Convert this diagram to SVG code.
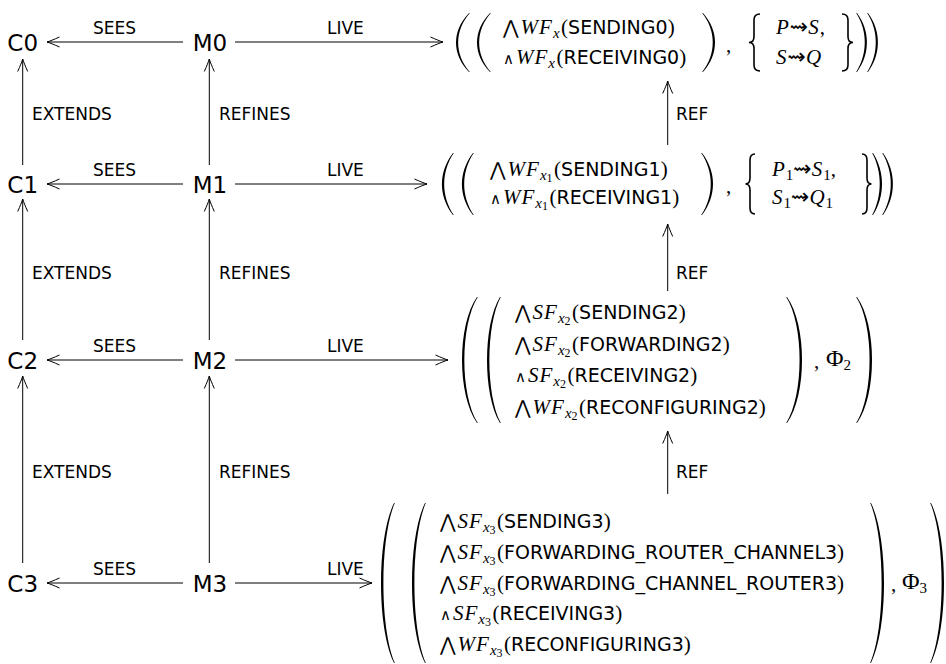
<svg xmlns="http://www.w3.org/2000/svg" width="946" height="664" viewBox="0 0 946 664">
<defs>
<marker id="ah" markerUnits="userSpaceOnUse" viewBox="-14 -7 16 14" markerWidth="16" markerHeight="14" refX="0" refY="0" orient="auto" overflow="visible">
<path d="M-12.5,-5 Q-4,-1.2 0,0 Q-4,1.2 -12.5,5" fill="none" stroke="#000" stroke-width="1"/>
</marker>
<style>
.ln{stroke:#000;stroke-width:1;fill:none;marker-end:url(#ah)}
.node{font-family:"DejaVu Sans",sans-serif;font-size:23px;text-anchor:middle;fill:#000}
.lbl{font-family:"DejaVu Sans",sans-serif;font-size:17px;fill:#000}
.f{font-family:"DejaVu Sans",sans-serif;font-size:19px;fill:#000}
.mi{font-family:"Liberation Serif",serif;font-style:italic;font-size:21px;letter-spacing:1px}
.rm{font-family:"Liberation Serif",serif;font-style:normal;font-size:21px}
.s1{font-family:"Liberation Serif",serif;font-style:italic;font-size:15px}
.s2{font-family:"Liberation Serif",serif;font-style:normal;font-size:12px}
.sd{font-family:"Liberation Serif",serif;font-style:normal;font-size:15px}
.bw{font-family:"DejaVu Sans",sans-serif;font-size:19px}
.sw{font-family:"DejaVu Sans",sans-serif;font-size:15px}
.lt{font-family:"DejaVu Sans",sans-serif;font-size:22px}
.ph{font-family:"Liberation Serif",serif;font-size:24px;fill:#000}
.par{fill:#000;stroke:none}
.brc{fill:none;stroke:#000;stroke-width:1.6}
</style>
</defs>

<g id="connectors">
<line class="ln" x1="183" y1="42" x2="47" y2="42"/>
<line class="ln" x1="183" y1="184" x2="47" y2="184"/>
<line class="ln" x1="183" y1="360" x2="47" y2="360"/>
<line class="ln" x1="183" y1="583" x2="47" y2="583"/>
<text class="lbl" x="93" y="34">SEES</text>
<text class="lbl" x="93" y="176">SEES</text>
<text class="lbl" x="93" y="352">SEES</text>
<text class="lbl" x="93" y="575">SEES</text>
<line class="ln" x1="235" y1="42" x2="443" y2="42"/>
<line class="ln" x1="235" y1="184" x2="427" y2="184"/>
<line class="ln" x1="235" y1="360" x2="448" y2="360"/>
<line class="ln" x1="235" y1="583" x2="372" y2="583"/>
<text class="lbl" x="327" y="34">LIVE</text>
<text class="lbl" x="327" y="176">LIVE</text>
<text class="lbl" x="327" y="352">LIVE</text>
<text class="lbl" x="327" y="575">LIVE</text>
<line class="ln" x1="22.7" y1="165" x2="22.7" y2="59"/>
<line class="ln" x1="22.7" y1="340" x2="22.7" y2="199"/>
<line class="ln" x1="22.7" y1="563" x2="22.7" y2="376"/>
<text class="lbl" x="32" y="119.5">EXTENDS</text>
<text class="lbl" x="32" y="278.5">EXTENDS</text>
<text class="lbl" x="32" y="477.5">EXTENDS</text>
<line class="ln" x1="209.3" y1="165" x2="209.3" y2="59"/>
<line class="ln" x1="209.3" y1="340" x2="209.3" y2="199"/>
<line class="ln" x1="209.3" y1="563" x2="209.3" y2="376"/>
<text class="lbl" x="219" y="119.5">REFINES</text>
<text class="lbl" x="219" y="278.5">REFINES</text>
<text class="lbl" x="219" y="477.5">REFINES</text>
<line class="ln" x1="667.7" y1="145" x2="667.7" y2="81"/>
<line class="ln" x1="667.7" y1="291" x2="667.7" y2="224"/>
<line class="ln" x1="667.7" y1="494" x2="667.7" y2="431"/>
<text class="lbl" x="676" y="119.5">REF</text>
<text class="lbl" x="676" y="278.5">REF</text>
<text class="lbl" x="676" y="477.5">REF</text>
</g>

<g id="C0"><text class="node" x="22.7" y="50.5">C0</text></g>
<g id="C1"><text class="node" x="22.7" y="192.5">C1</text></g>
<g id="C2"><text class="node" x="22.7" y="368.5">C2</text></g>
<g id="C3"><text class="node" x="22.7" y="591.5">C3</text></g>
<g id="M0"><text class="node" x="210" y="50.5">M0</text></g>
<g id="M1"><text class="node" x="210" y="192.5">M1</text></g>
<g id="M2"><text class="node" x="210" y="368.5">M2</text></g>
<g id="M3"><text class="node" x="210" y="591.5">M3</text></g>

<g id="F0">
<path class="par" d="M469,13 C451.67,31 451.67,54 469,72 L469.8,72 C454.33,54 454.33,31 469.8,13Z"/>
<path class="par" d="M490,13 C472.67,31 472.67,54 490,72 L490.8,72 C475.33,54 475.33,31 490.8,13Z"/>
<text class="f" x="503" y="33.5"><tspan class="bw">⋀</tspan><tspan class="mi" dx="2">WF</tspan><tspan class="s1" dy="4">x</tspan><tspan class="rm" dx="1.5" dy="-4">(</tspan>SENDING0<tspan class="rm">)</tspan></text>
<text class="f" x="503" y="63.5"><tspan class="sw">∧</tspan><tspan class="mi" dx="2">WF</tspan><tspan class="s1" dy="4">x</tspan><tspan class="rm" dx="1.5" dy="-4">(</tspan>RECEIVING0<tspan class="rm">)</tspan></text>
<path class="par" d="M703,13 C719,31 719,54 703,72 L702.2,72 C716.33,54 716.33,31 702.2,13Z"/>
<text class="rm" x="726" y="52" fill="#000">,</text>
<path class="brc" d="M760,14 Q754,14 754,20 L754,36.5 Q754,42.5 749,42.5 Q754,42.5 754,48.5 L754,65 Q754,71 760,71"/>
<text class="f" x="776" y="33.5"><tspan class="mi">P</tspan><tspan class="lt">⇝</tspan><tspan class="mi">S</tspan><tspan class="rm">,</tspan></text>
<text class="f" x="776" y="63.5"><tspan class="mi">S</tspan><tspan class="lt">⇝</tspan><tspan class="mi">Q</tspan></text>
<path class="brc" d="M842,14 Q848,14 848,20 L848,36.5 Q848,42.5 853,42.5 Q848,42.5 848,48.5 L848,65 Q848,71 842,71"/>
<path class="par" d="M857,13 C870.33,31 870.33,54 857,72 L856.2,72 C867.67,54 867.67,31 856.2,13Z"/>
<path class="par" d="M868,13 C881.33,31 881.33,54 868,72 L867.2,72 C878.67,54 878.67,31 867.2,13Z"/>
</g>

<g id="F1">
<path class="par" d="M453,153 C438.33,172 438.33,196 453,215 L453.8,215 C441,196 441,172 453.8,153Z"/>
<path class="par" d="M473,153 C458.33,172 458.33,196 473,215 L473.8,215 C461,196 461,172 473.8,153Z"/>
<text class="f" x="490" y="176"><tspan class="bw">⋀</tspan><tspan class="mi" dx="2">WF</tspan><tspan class="s1" dy="4">x</tspan><tspan class="s2" dy="2">1</tspan><tspan class="rm" dx="1.5" dy="-6">(</tspan>SENDING1<tspan class="rm">)</tspan></text>
<text class="f" x="490" y="203.5"><tspan class="sw">∧</tspan><tspan class="mi" dx="2">WF</tspan><tspan class="s1" dy="4">x</tspan><tspan class="s2" dy="2">1</tspan><tspan class="rm" dx="1.5" dy="-6">(</tspan>RECEIVING1<tspan class="rm">)</tspan></text>
<path class="par" d="M702,153 C716.67,172 716.67,196 702,215 L701.2,215 C714,196 714,172 701.2,153Z"/>
<text class="rm" x="726" y="193" fill="#000">,</text>
<path class="brc" d="M755,154 Q750,154 750,160 L750,178 Q750,184 745.5,184 Q750,184 750,190 L750,208 Q750,214 755,214"/>
<text class="f" x="772" y="176"><tspan class="mi">P</tspan><tspan class="sd" dy="4">1</tspan><tspan class="lt" dy="-4">⇝</tspan><tspan class="mi">S</tspan><tspan class="sd" dy="4">1</tspan><tspan class="rm" dy="-4">,</tspan></text>
<text class="f" x="772" y="203.5"><tspan class="mi">S</tspan><tspan class="sd" dy="4">1</tspan><tspan class="lt" dy="-4">⇝</tspan><tspan class="mi">Q</tspan><tspan class="sd" dy="4">1</tspan></text>
<path class="brc" d="M862,154 Q867,154 867,160 L867,178 Q867,184 871.5,184 Q867,184 867,190 L867,208 Q867,214 862,214"/>
<path class="par" d="M873,153 C885,172 885,196 873,215 L872.2,215 C882.33,196 882.33,172 872.2,153Z"/>
<path class="par" d="M883,153 C896.33,172 896.33,196 883,215 L882.2,215 C893.67,196 893.67,172 882.2,153Z"/>
</g>

<g id="F2">
<path class="par" d="M477,297 C457,325 457,395 477,423 L477.8,423 C459.93,395 459.93,325 477.8,297Z"/>
<path class="par" d="M500,297 C482.67,325 482.67,395 500,423 L500.8,423 C485.6,395 485.6,325 500.8,297Z"/>
<text class="f" x="515" y="319"><tspan class="bw">⋀</tspan><tspan class="mi" dx="2">SF</tspan><tspan class="s1" dy="4">x</tspan><tspan class="s2" dy="2">2</tspan><tspan class="rm" dx="1.5" dy="-6">(</tspan>SENDING2<tspan class="rm">)</tspan></text>
<text class="f" x="515" y="350.5"><tspan class="bw">⋀</tspan><tspan class="mi" dx="2">SF</tspan><tspan class="s1" dy="4">x</tspan><tspan class="s2" dy="2">2</tspan><tspan class="rm" dx="1.5" dy="-6">(</tspan>FORWARDING2<tspan class="rm">)</tspan></text>
<text class="f" x="515" y="382"><tspan class="sw">∧</tspan><tspan class="mi" dx="2">SF</tspan><tspan class="s1" dy="4">x</tspan><tspan class="s2" dy="2">2</tspan><tspan class="rm" dx="1.5" dy="-6">(</tspan>RECEIVING2<tspan class="rm">)</tspan></text>
<text class="f" x="515" y="413.5"><tspan class="bw">⋀</tspan><tspan class="mi" dx="2">WF</tspan><tspan class="s1" dy="4">x</tspan><tspan class="s2" dy="2">2</tspan><tspan class="rm" dx="1.5" dy="-6">(</tspan>RECONFIGURING2<tspan class="rm">)</tspan></text>
<path class="par" d="M787,297 C807,325 807,395 787,423 L786.2,423 C804.07,395 804.07,325 786.2,297Z"/>
<text class="rm" x="814" y="368" fill="#000">,</text>
<text class="ph" x="826" y="366">Φ<tspan class="sd" dy="4">2</tspan></text>
<path class="par" d="M857,297 C877,325 877,395 857,423 L856.2,423 C874.07,395 874.07,325 856.2,297Z"/>
</g>

<g id="F3">
<path class="par" d="M394,503 C376.67,538 376.67,628 394,663 L394.8,663 C379.6,628 379.6,538 394.8,503Z"/>
<path class="par" d="M425,503 C407.67,538 407.67,628 425,663 L425.8,663 C410.6,628 410.6,538 425.8,503Z"/>
<text class="f" x="440" y="528"><tspan class="bw">⋀</tspan><tspan class="mi" dx="2">SF</tspan><tspan class="s1" dy="4">x</tspan><tspan class="s2" dy="2">3</tspan><tspan class="rm" dx="1.5" dy="-6">(</tspan>SENDING3<tspan class="rm">)</tspan></text>
<text class="f" x="440" y="558.5"><tspan class="bw">⋀</tspan><tspan class="mi" dx="2">SF</tspan><tspan class="s1" dy="4">x</tspan><tspan class="s2" dy="2">3</tspan><tspan class="rm" dx="1.5" dy="-6">(</tspan>FORWARDING_ROUTER_CHANNEL3<tspan class="rm">)</tspan></text>
<text class="f" x="440" y="589.5"><tspan class="bw">⋀</tspan><tspan class="mi" dx="2">SF</tspan><tspan class="s1" dy="4">x</tspan><tspan class="s2" dy="2">3</tspan><tspan class="rm" dx="1.5" dy="-6">(</tspan>FORWARDING_CHANNEL_ROUTER3<tspan class="rm">)</tspan></text>
<text class="f" x="440" y="620"><tspan class="sw">∧</tspan><tspan class="mi" dx="2">SF</tspan><tspan class="s1" dy="4">x</tspan><tspan class="s2" dy="2">3</tspan><tspan class="rm" dx="1.5" dy="-6">(</tspan>RECEIVING3<tspan class="rm">)</tspan></text>
<text class="f" x="440" y="651"><tspan class="bw">⋀</tspan><tspan class="mi" dx="2">WF</tspan><tspan class="s1" dy="4">x</tspan><tspan class="s2" dy="2">3</tspan><tspan class="rm" dx="1.5" dy="-6">(</tspan>RECONFIGURING3<tspan class="rm">)</tspan></text>
<path class="par" d="M871,503 C888.33,538 888.33,628 871,663 L870.2,663 C885.4,628 885.4,538 870.2,503Z"/>
<text class="rm" x="891" y="591" fill="#000">,</text>
<text class="ph" x="902" y="589">Φ<tspan class="sd" dy="4">3</tspan></text>
<path class="par" d="M931,503 C948.33,538 948.33,628 931,663 L930.2,663 C945.4,628 945.4,538 930.2,503Z"/>
</g>
</svg>
